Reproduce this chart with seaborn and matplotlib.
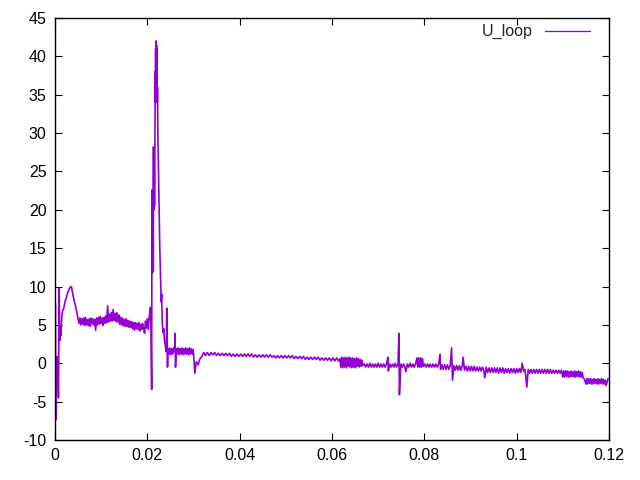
import numpy as np
import pandas as pd
import matplotlib
matplotlib.use("Agg")
import matplotlib.pyplot as plt
import seaborn as sns

sns.set_style("ticks")
plt.rcParams['font.family'] = ['Liberation Sans', 'DejaVu Sans']

# ---- data ----
t_start = [0.0001, 0.00015, 0.0003, 0.0004, 0.0005, 0.0006, 0.00075, 0.0009, 0.0010, 0.0011,
           0.0012, 0.0013, 0.0015, 0.0017, 0.0019, 0.0022, 0.0025, 0.0028, 0.0031, 0.0034,
           0.0036, 0.0038, 0.0040, 0.0042, 0.0044, 0.0046, 0.0048, 0.0050, 0.0052]
u_start = [7.8, -7.4, 0.8, -0.8, 0.9, -0.6, -4.5, 9.8, 4.2, 3.0,
           4.8, 3.6, 6.4, 6.9, 7.2, 8.1, 8.6, 9.3, 9.7, 10.0,
           9.9, 9.2, 8.6, 8.0, 7.6, 7.0, 6.4, 5.8, 5.2]

t_plateau = [0.0054, 0.0056, 0.0058, 0.0060, 0.0062, 0.0064, 0.0066, 0.0068, 0.0070, 0.0072,
             0.0074, 0.0076, 0.0078, 0.0080, 0.0082, 0.0084, 0.0086, 0.0088, 0.0090, 0.0092,
             0.0094, 0.0096, 0.0098, 0.0100, 0.0102, 0.0104, 0.0106, 0.0108, 0.0110, 0.0112,
             0.0114, 0.0116, 0.0118, 0.0120, 0.0122, 0.0124, 0.0126, 0.0128, 0.0130, 0.0132,
             0.0134, 0.0136, 0.0138, 0.0140, 0.0142, 0.0144, 0.0146, 0.0148, 0.0150, 0.0152,
             0.0154, 0.0156, 0.0158, 0.0160, 0.0162, 0.0164, 0.0166, 0.0168, 0.0170, 0.0172,
             0.0174, 0.0176, 0.0178, 0.0180, 0.0182, 0.0184, 0.0186, 0.0188, 0.0190, 0.0192,
             0.0194, 0.0196, 0.0198, 0.0200, 0.0202, 0.0204]
u_plateau = [5.9, 5.0, 5.8, 5.1, 5.9, 4.9, 6.0, 5.0, 5.7, 4.9,
             5.8, 4.8, 5.9, 5.1, 5.8, 5.0, 5.7, 4.3, 5.9, 5.0,
             6.0, 5.1, 6.1, 5.2, 5.9, 4.9, 6.0, 5.2, 6.2, 5.3,
             7.5, 5.4, 6.4, 5.5, 6.6, 5.5, 7.0, 5.6, 6.5, 5.4,
             6.6, 5.4, 6.3, 5.1, 6.0, 5.0, 5.9, 4.9, 5.7, 4.8,
             5.8, 4.8, 5.6, 4.7, 5.5, 4.7, 5.4, 4.5, 5.3, 4.3,
             5.3, 4.5, 5.2, 4.4, 5.3, 4.2, 5.1, 4.4, 5.2, 4.5,
             3.9, 5.5, 4.6, 5.8, 4.4, 6.0]

t_spike = [0.02069, 0.02080, 0.02094, 0.02100, 0.02104, 0.02108, 0.02111, 0.02114, 0.02117, 0.02120,
           0.02123, 0.02126, 0.02129, 0.02133, 0.02137, 0.02141, 0.02145, 0.02150, 0.02155, 0.02160,
           0.02166, 0.02172, 0.02176, 0.02180, 0.02183, 0.02186, 0.02189, 0.02192, 0.02195, 0.02198,
           0.02201, 0.02204, 0.02207, 0.02210, 0.02214, 0.02220, 0.02228, 0.02250, 0.02270, 0.02290,
           0.02300, 0.02310, 0.02324, 0.02340, 0.02355, 0.02370, 0.02383, 0.02395, 0.02410, 0.02420,
           0.02428, 0.02437]
u_spike = [7.3, 4.0, -3.4, 22.6, 12.0, 22.0, 11.8, 21.0, 12.5, 20.0,
           13.0, 22.0, 12.0, 28.2, 20.5, 26.0, 20.0, 25.0, 20.5, 24.0,
           30.0, 38.0, 34.0, 41.0, 34.0, 41.8, 34.5, 42.0, 34.5, 41.5,
           34.0, 41.0, 35.0, 40.0, 34.0, 36.0, 30.0, 22.0, 15.0, 10.5,
           8.0, 9.0, 5.2, 4.0, 4.5, 3.0, 2.6, 2.0, 1.5, 7.2,
           2.0, -0.5]

t_step1 = [0.0245, 0.0247, 0.0249, 0.0251, 0.0253, 0.0255, 0.0257, 0.0259, 0.0260, 0.0261,
           0.0263, 0.0265, 0.0267, 0.0269, 0.0271, 0.0273, 0.0275, 0.0277, 0.0279, 0.0281,
           0.0283, 0.0285, 0.0287, 0.0289, 0.0291, 0.0293, 0.0295, 0.0297, 0.0299, 0.0300]
u_step1 = [1.9, 1.2, 2.0, 1.1, 1.9, 1.2, 2.0, 1.5, 3.9, -0.5,
           1.9, 1.2, 2.0, 1.1, 1.9, 1.2, 2.0, 1.1, 1.9, 1.2,
           2.0, 1.2, 1.9, 1.1, 2.0, 1.2, 1.9, 1.2, 1.8, 1.3]

t_slow = [0.0303, 0.0306, 0.0310, 0.0314, 0.0318,
          0.0322, 0.0326, 0.0330, 0.0334, 0.0338, 0.0342, 0.0346, 0.0350, 0.0354, 0.0358,
          0.0362, 0.0366, 0.0370, 0.0374, 0.0378, 0.0382, 0.0386, 0.0390, 0.0394, 0.0398,
          0.0402, 0.0406, 0.0410, 0.0414, 0.0418, 0.0422, 0.0426, 0.0430, 0.0434, 0.0438,
          0.0442, 0.0446, 0.0450, 0.0454, 0.0458, 0.0462, 0.0466, 0.0470, 0.0474, 0.0478,
          0.0482, 0.0486, 0.0490, 0.0494, 0.0498, 0.0502, 0.0506, 0.0510, 0.0514, 0.0518,
          0.0522, 0.0526, 0.0530, 0.0534, 0.0538, 0.0542, 0.0546, 0.0550, 0.0554, 0.0558,
          0.0562, 0.0566, 0.0570, 0.0574, 0.0578, 0.0582, 0.0586, 0.0590, 0.0594, 0.0598,
          0.0602, 0.0606, 0.0610, 0.0614, 0.0617]
u_slow = [-1.3, 0.2, -0.2, 0.6, 0.9,
          1.4, 1.0, 1.4, 1.0, 1.4, 1.1, 1.4, 1.0, 1.3, 1.0,
          1.3, 1.0, 1.3, 1.0, 1.3, 0.9, 1.2, 0.9, 1.2, 0.9,
          1.2, 0.9, 1.2, 0.9, 1.2, 0.9, 1.2, 0.8, 1.1, 0.8,
          1.1, 0.8, 1.1, 0.8, 1.1, 0.8, 1.1, 0.8, 1.0, 0.7,
          1.0, 0.7, 1.0, 0.7, 1.0, 0.7, 1.0, 0.7, 1.0, 0.6,
          0.9, 0.6, 0.9, 0.6, 0.9, 0.5, 0.8, 0.5, 0.8, 0.5,
          0.8, 0.5, 0.8, 0.4, 0.7, 0.4, 0.7, 0.4, 0.7, 0.3,
          0.7, 0.3, 0.7, 0.3, 0.6]

t_noisy = [0.0619, 0.0621, 0.0623, 0.0625, 0.0627, 0.0629, 0.0631, 0.0633, 0.0635, 0.0637,
           0.0639, 0.0641, 0.0643, 0.0645, 0.0647, 0.0649, 0.0651, 0.0653, 0.0655, 0.0657,
           0.0659, 0.0661, 0.0663, 0.0665, 0.0667]
u_noisy = [-0.5, 0.8, -0.6, 0.7, -0.5, 0.8, -0.6, 0.7, -0.4, 0.8,
           -0.5, 0.7, -0.6, 0.7, -0.5, 0.6, -0.6, 0.7, -0.4, 0.6,
           -0.5, 0.5, -0.4, 0.4, -0.3]

t_mid = [0.0670, 0.0673, 0.0676, 0.0679, 0.0682, 0.0685, 0.0688, 0.0691, 0.0694, 0.0697,
         0.0700, 0.0703, 0.0706, 0.0709, 0.0712, 0.0715, 0.0718, 0.0721, 0.0722, 0.0725,
         0.0728, 0.0731, 0.0734, 0.0737, 0.0740, 0.0743, 0.0745, 0.0746, 0.0749, 0.0752,
         0.0755, 0.0758, 0.0760, 0.0763, 0.0766, 0.0769, 0.0772, 0.0775, 0.0778, 0.0781,
         0.0784, 0.0786, 0.0788, 0.0790, 0.0792, 0.0794, 0.0796, 0.0798, 0.0801, 0.0804,
         0.0807, 0.0810, 0.0813, 0.0816, 0.0819, 0.0822, 0.0825, 0.0828, 0.0831, 0.0834,
         0.0835]
u_mid = [-0.1, -0.5, -0.1, -0.5, 0.0, -0.5, -0.1, -0.5, -0.1, -0.5,
         0.0, -0.5, -0.1, -0.5, -0.1, -0.5, -0.1, 0.8, -1.0, -0.1,
         -0.5, -0.1, -0.5, 0.0, -0.5, -0.1, 3.9, -4.1, -0.1, -0.5,
         -0.1, -0.5, -1.1, -0.1, -0.5, 0.0, -0.5, -0.1, -0.5, -0.1,
         0.7, -0.5, 0.7, -0.5, 0.7, -0.5, 0.6, -0.4, -0.1, -0.5,
         -0.1, -0.5, -0.1, -0.5, -0.1, -0.5, -0.1, -0.5, -0.1, 1.2,
         -0.8]

t_late = [0.0838, 0.0841, 0.0844, 0.0847, 0.0850, 0.0853, 0.0856, 0.0859, 0.0861, 0.0864,
          0.0867, 0.0870, 0.0873, 0.0876, 0.0879, 0.0882, 0.0884, 0.0887, 0.0890, 0.0893,
          0.0896, 0.0899, 0.0902, 0.0905, 0.0908, 0.0911, 0.0914, 0.0917, 0.0920, 0.0923,
          0.0926, 0.0929, 0.0931, 0.0934, 0.0937, 0.0940, 0.0943, 0.0946, 0.0949, 0.0952,
          0.0955, 0.0958, 0.0961, 0.0964, 0.0967, 0.0970, 0.0973, 0.0976, 0.0979, 0.0982,
          0.0985, 0.0988, 0.0991, 0.0994, 0.0997, 0.1000, 0.1003, 0.1006, 0.1009, 0.1012,
          0.1015, 0.1018, 0.1022, 0.1025, 0.1028, 0.1031, 0.1034, 0.1037, 0.1040, 0.1043,
          0.1046, 0.1049, 0.1052, 0.1055, 0.1058, 0.1061, 0.1064, 0.1067, 0.1070, 0.1073,
          0.1076, 0.1079, 0.1082, 0.1085, 0.1088, 0.1091, 0.1094, 0.1097]
u_late = [-0.2, -0.8, -0.2, -0.8, -0.2, -0.8, -0.3, 2.0, -2.2, -0.3,
          -0.9, -0.3, -0.9, -0.3, -0.9, -0.4, 0.8, -0.9, -0.4, -1.0,
          -0.4, -1.0, -0.4, -1.0, -0.4, -1.0, -0.5, -1.0, -0.5, -1.0,
          -0.5, -1.0, -1.9, -0.5, -1.2, -0.6, -1.2, -0.6, -1.2, -0.6,
          -1.2, -0.6, -1.3, -0.6, -1.2, -0.6, -1.3, -0.7, -1.2, -0.7,
          -1.3, -0.7, -1.2, -0.7, -1.3, -0.7, -1.2, -0.7, -1.2, 0.0,
          -1.0, -0.8, -3.1, -0.8, -1.3, -0.8, -1.3, -0.8, -1.3, -0.8,
          -1.3, -0.8, -1.3, -0.8, -1.3, -0.8, -1.3, -0.8, -1.3, -0.8,
          -1.3, -0.9, -1.3, -0.9, -1.3, -0.9, -1.3, -0.9]

t_end = [0.1100, 0.1102, 0.1104, 0.1106, 0.1108, 0.1110, 0.1112, 0.1114, 0.1116, 0.1118,
         0.1120, 0.1122, 0.1124, 0.1126, 0.1128, 0.1130, 0.1132, 0.1134, 0.1136, 0.1138,
         0.1140, 0.1142, 0.1144, 0.1147, 0.1150, 0.1152, 0.1154, 0.1156, 0.1158, 0.1160,
         0.1162, 0.1164, 0.1166, 0.1168, 0.1170, 0.1172, 0.1174, 0.1176, 0.1178, 0.1180,
         0.1182, 0.1184, 0.1186, 0.1188, 0.1190, 0.1192, 0.1194, 0.1196, 0.1198]
u_end = [-1.8, -1.0, -1.8, -1.0, -1.7, -1.0, -1.8, -1.1, -1.8, -1.0,
         -1.7, -1.1, -1.8, -1.0, -1.8, -1.1, -1.7, -1.0, -1.8, -1.1,
         -1.8, -1.2, -1.9, -2.1, -2.7, -2.0, -2.7, -2.0, -2.6, -2.0,
         -2.7, -2.1, -2.7, -2.0, -2.6, -2.1, -2.7, -2.0, -2.7, -2.1,
         -2.6, -2.0, -2.7, -2.1, -2.7, -2.2, -2.9, -2.4, -2.0]

x_ticks = [0, 0.02, 0.04, 0.06, 0.08, 0.1, 0.12]
x_labels = ["0", "0.02", "0.04", "0.06", "0.08", "0.1", "0.12"]
y_ticks = [-10, -5, 0, 5, 10, 15, 20, 25, 30, 35, 40, 45]
y_labels = ["-10", "-5", "0", "5", "10", "15", "20", "25", "30", "35", "40", "45"]

segments_t = [t_start, t_plateau, t_spike, t_step1, t_slow, t_noisy, t_mid, t_late, t_end]
segments_u = [u_start, u_plateau, u_spike, u_step1, u_slow, u_noisy, u_mid, u_late, u_end]
for a, b in zip(segments_t, segments_u):
    assert len(a) == len(b), (len(a), len(b), a[0])

t = np.concatenate(segments_t)
u = np.concatenate(segments_u)
df = pd.DataFrame({"t": t, "U_loop": u})

fig = plt.figure(figsize=(6.4, 4.8), dpi=100)
ax = fig.add_axes([55 / 640, 40 / 480, 554 / 640, 422 / 480])
sns.lineplot(data=df, x="t", y="U_loop", ax=ax, color="#9400D3", lw=1.2,
             sort=False, estimator=None, label="U_loop")
ax.set_xlim(0, 0.12)
ax.set_ylim(-10, 45)
ax.set_xticks(x_ticks)
ax.set_xticklabels(x_labels)
ax.set_yticks(y_ticks)
ax.set_yticklabels(y_labels)
ax.set_xlabel("")
ax.set_ylabel("")
ax.tick_params(direction="in", length=5, width=0.8, top=True, right=True,
               labelsize=11.5, pad=6, colors="black")
for s in ax.spines.values():
    s.set_linewidth(1.0)
    s.set_color("black")
leg = ax.legend(loc="upper right", bbox_to_anchor=(0.9657, 0.985), frameon=False,
                markerfirst=False, handlelength=2.8, handletextpad=0.8,
                borderpad=0, borderaxespad=0, fontsize=11.5)
for h in leg.get_lines():
    h.set_linewidth(0.9)
fig.savefig("out.png", dpi=100)
